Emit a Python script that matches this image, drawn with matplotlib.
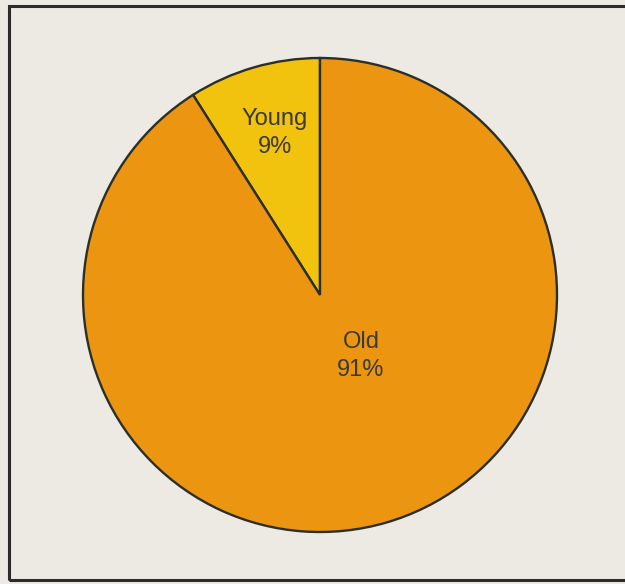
import matplotlib.pyplot as plt
from matplotlib.patches import Rectangle

# slice data
categories = ["Young", "Old"]
shares = [9, 91]
colors = ["#F1C20E", "#EC9510"]

plt.rcParams['font.family'] = ['Liberation Sans', 'DejaVu Sans']

fig = plt.figure(figsize=(6.25, 5.84), dpi=100)
fig.patch.set_facecolor("#EDE9E3")
ax = fig.add_axes([0, 0, 1, 1])

wedges, _ = ax.pie(
    shares, colors=colors, startangle=90, counterclock=True,
    center=(320, 289), radius=237, frame=True,
    wedgeprops=dict(edgecolor="#2a2f2a", linewidth=1.7),
)
ax.set_xlim(0, 625)
ax.set_ylim(0, 584)
ax.set_aspect("equal")
ax.axis("off")

# label positions in pixel space
label_pos = {"Young": (275, 451), "Old": (361, 228)}
for name, val in zip(categories, shares):
    x, y = label_pos[name]
    ax.text(x, y, f"{name}\n{val}%", ha="center", va="center",
            fontsize=17, color="#3a3a36", linespacing=1.3)

# outer frame
ax.add_patch(Rectangle((9, 4), 640, 574, fill=False, edgecolor="#2b2b2b",
                       linewidth=2.2, clip_on=False))

fig.savefig("out.png", dpi=100, facecolor=fig.get_facecolor())
